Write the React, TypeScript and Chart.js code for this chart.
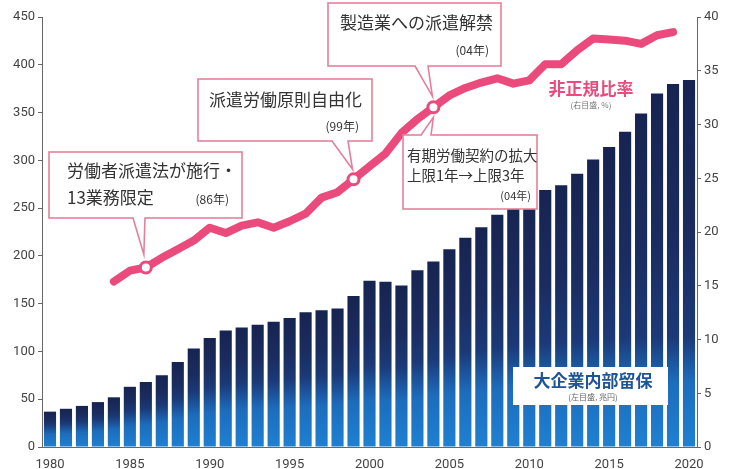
import React, { useEffect, useRef } from "react";
import { Chart, registerables } from "chart.js";

Chart.register(...registerables);

const years = [
  "1980", "1981", "1982", "1983", "1984", "1985", "1986", "1987", "1988", "1989",
  "1990", "1991", "1992", "1993", "1994", "1995", "1996", "1997", "1998", "1999",
  "2000", "2001", "2002", "2003", "2004", "2005", "2006", "2007", "2008", "2009",
  "2010", "2011", "2012", "2013", "2014", "2015", "2016", "2017", "2018", "2019",
  "2020",
];

// 大企業内部留保 (左目盛, 兆円)
const retainedEarnings = [
  37, 40, 43, 47, 52, 63, 68, 75, 89, 103,
  114, 122, 125, 128, 131, 135, 141, 143, 145, 158,
  174, 173, 169, 185, 194, 207, 219, 230, 243, 252,
  260, 269, 274, 286, 301, 314, 330, 349, 370, 380,
  384,
];

// 非正規比率 (右目盛, %)
const nonRegularRatio = [
  null, null, null, null, 15.4, 16.4, 16.7, 17.6, 18.4, 19.2,
  20.4, 19.9, 20.6, 20.9, 20.4, 21.0, 21.7, 23.2, 23.7, 24.9,
  26.1, 27.3, 29.2, 30.5, 31.6, 32.7, 33.4, 33.9, 34.3, 33.8,
  34.1, 35.6, 35.6, 36.9, 38.0, 37.9, 37.8, 37.5, 38.3, 38.6,
  null,
];

const xTickLabels = ["1980", "1985", "1990", "1995", "2000", "2005", "2010", "2015", "2020"];
const markerYears = ["1986", "1999", "2004"];

const lineLabel = "非正規比率";
const lineSubLabel = "(右目盛, %)";
const barLabel = "大企業内部留保";
const barSubLabel = "(左目盛, 兆円)";

const note86 = ["労働者派遣法が施行・", "13業務限定", "(86年)"];
const note99 = ["派遣労働原則自由化", "(99年)"];
const note04a = ["製造業への派遣解禁", "(04年)"];
const note04b = ["有期労働契約の拡大", "上限1年→上限3年", "(04年)"];

const PINK = "#ea4a7c";
const BOX_PINK = "#e5809c";
const TEXT = "#333333";
const JP = "'Noto Sans CJK JP', 'Noto Sans', sans-serif";
const AXISFONT = "'Liberation Sans Narrow', 'Roboto', sans-serif";

function callout(
  ctx: CanvasRenderingContext2D,
  x0: number, y0: number, x1: number, y1: number,
  side: "top" | "bottom",
  baseL: number, baseR: number, tipX: number, tipY: number
) {
  ctx.save();
  ctx.fillStyle = "#ffffff";
  ctx.strokeStyle = BOX_PINK;
  ctx.lineWidth = 1.6;
  ctx.fillRect(x0, y0, x1 - x0, y1 - y0);
  ctx.strokeRect(x0, y0, x1 - x0, y1 - y0);
  const by = side === "bottom" ? y1 : y0;
  // tail fill
  ctx.beginPath();
  ctx.moveTo(baseL, by);
  ctx.lineTo(tipX, tipY);
  ctx.lineTo(baseR, by);
  ctx.closePath();
  ctx.fill();
  // erase border under tail
  ctx.fillRect(baseL + 0.8, by - 1.2, baseR - baseL - 1.6, 2.4);
  ctx.beginPath();
  ctx.moveTo(baseL, by);
  ctx.lineTo(tipX, tipY);
  ctx.lineTo(baseR, by);
  ctx.stroke();
  ctx.restore();
}

function text(
  ctx: CanvasRenderingContext2D, s: string, x: number, y: number,
  size: number, color: string, align: CanvasTextAlign, weight = "normal"
) {
  ctx.save();
  ctx.font = `${weight} ${size}px ${JP}`;
  ctx.fillStyle = color;
  ctx.textAlign = align;
  ctx.textBaseline = "middle";
  ctx.fillText(s, x, y);
  ctx.restore();
}

const annotationPlugin = {
  id: "annotations",
  afterDatasetsDraw(chart: any) {
    const ctx: CanvasRenderingContext2D = chart.ctx;
    const xs = chart.scales.x;
    const yr = chart.scales.y1;
    const pt = (year: string) => {
      const i = years.indexOf(year);
      return { x: xs.getPixelForValue(i), y: yr.getPixelForValue(nonRegularRatio[i] as number) };
    };
    const p86 = pt("1986");
    const p99 = pt("1999");
    const p04 = pt("2004");

    // 86
    callout(ctx, 49, 152, 242, 218, "bottom", 133, 145, p86.x - 2, p86.y - 13);
    text(ctx, note86[0], 67, 171, 17, TEXT, "left");
    text(ctx, note86[1], 67, 198, 17, TEXT, "left");
    text(ctx, note86[2], 229, 199, 12, TEXT, "right");

    // 99
    callout(ctx, 198, 79, 372, 141, "bottom", 332, 348, p99.x - 1, p99.y - 10);
    text(ctx, note99[0], 209, 100, 17, TEXT, "left");
    text(ctx, note99[1], 359, 126, 12, TEXT, "right");

    // 04 製造業
    callout(ctx, 328, 3, 501, 66, "bottom", 415, 428, p04.x - 1, p04.y - 11);
    text(ctx, note04a[0], 340, 23, 17, TEXT, "left");
    text(ctx, note04a[1], 489, 50, 12, TEXT, "right");

    // 04 有期
    callout(ctx, 403, 135, 537, 209, "top", 421, 431, p04.x, p04.y + 10);
    text(ctx, note04b[0], 407, 155, 14.5, TEXT, "left");
    text(ctx, note04b[1], 407, 175, 14.5, TEXT, "left");
    text(ctx, note04b[2], 531, 196, 11, TEXT, "right");

    // line legend
    text(ctx, lineLabel, 591, 89, 17, PINK, "center", "bold");
    text(ctx, lineSubLabel, 591, 105, 8, "#777777", "center");

    // bar legend box
    ctx.save();
    ctx.fillStyle = "#ffffff";
    ctx.fillRect(513, 367, 155, 38);
    ctx.restore();
    text(ctx, barLabel, 593, 381, 17, "#1f5597", "center", "bold");
    text(ctx, barSubLabel, 593, 397, 8, "#666666", "center");
  },
};

function barColor(c: any) {
  const chart = c.chart;
  if (!chart.chartArea || c.raw == null) return "#1d5fa8";
  const y = chart.scales.y;
  const top = y.getPixelForValue(c.raw);
  const base = y.getPixelForValue(0);
  const h = Math.max(base - top, 1);
  const r = Math.min(h / 363, 1);
  const a = 0.35 + 0.35 * r;
  const b = Math.min(a + 0.12 + 0.15 * (1 - r), 0.97);
  const g = chart.ctx.createLinearGradient(0, top, 0, base);
  g.addColorStop(0, "#172452");
  g.addColorStop(a * 0.6, "#1a2c60");
  g.addColorStop(a, "#1b3a78");
  g.addColorStop(b, "#1c6cbc");
  g.addColorStop(1, "#1f80d2");
  return g;
}

export default function App() {
  const ref = useRef<HTMLCanvasElement>(null);
  useEffect(() => {
    document.body.style.margin = "0";
    const canvas = ref.current!;
    const chart = new Chart(canvas, {
      data: {
        labels: years,
        datasets: [
          {
            type: "line",
            label: lineLabel,
            data: nonRegularRatio as any,
            yAxisID: "y1",
            borderColor: PINK,
            borderWidth: 8,
            borderJoinStyle: "round",
            borderCapStyle: "round",
            tension: 0,
            pointRadius: years.map((yv) => (markerYears.includes(yv) ? 5.5 : 0)),
            pointBackgroundColor: "#ffffff",
            pointBorderColor: PINK,
            pointBorderWidth: 3,
            order: 0,
          } as any,
          {
            type: "bar",
            label: barLabel,
            data: retainedEarnings,
            yAxisID: "y",
            backgroundColor: barColor,
            barPercentage: 0.76,
            categoryPercentage: 1,
            order: 1,
          } as any,
        ],
      },
      options: {
        animation: false,
        responsive: true,
        maintainAspectRatio: false,
        layout: { padding: { top: 17, left: 0, right: 0, bottom: 0 } },
        plugins: { legend: { display: false }, tooltip: { enabled: false } },
        scales: {
          x: {
            grid: { display: false },
            border: { display: true, color: "#666666", width: 1 },
            ticks: {
              autoSkip: false,
              maxRotation: 0,
              padding: 2,
              color: "#444444",
              font: { family: AXISFONT, size: 13 },
              callback: (v: any, i: number) => (xTickLabels.includes(years[i]) ? years[i] : ""),
            },
            afterFit: (s: any) => {
              s.height = 22;
            },
          },
          y: {
            position: "left",
            min: 0,
            max: 450,
            ticks: { stepSize: 50, color: "#444444", padding: 3, font: { family: AXISFONT, size: 13 } },
            grid: { drawOnChartArea: false, drawTicks: true, tickLength: 4, color: "#666666" },
            border: { display: true, color: "#666666", width: 1 },
            afterFit: (s: any) => {
              s.width = 42;
            },
          },
          y1: {
            position: "right",
            min: 0,
            max: 40,
            ticks: { stepSize: 5, color: "#444444", padding: 3, font: { family: AXISFONT, size: 13 } },
            grid: { drawOnChartArea: false, drawTicks: true, tickLength: 4, color: "#666666" },
            border: { display: true, color: "#666666", width: 1 },
            afterFit: (s: any) => {
              s.width = 38;
            },
          },
        },
      },
      plugins: [annotationPlugin],
    });
    return () => chart.destroy();
  }, []);
  return (
    <div style={{ position: "relative", width: 735, height: 469 }}>
      <canvas ref={ref} />
    </div>
  );
}
